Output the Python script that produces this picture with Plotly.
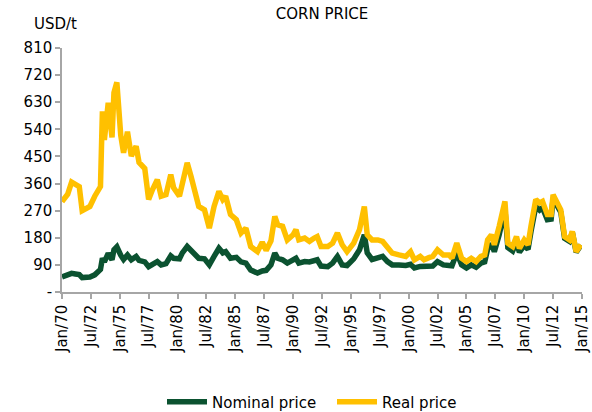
import plotly.graph_objects as go

dates = [
    "1970-01", "1970-07", "1970-11", "1971-03", "1971-07", "1971-10", "1972-02", "1972-06",
    "1972-11", "1973-03", "1973-05", "1973-07", "1973-09", "1974-01", "1974-05", "1974-07",
    "1974-10", "1975-02", "1975-05", "1975-09", "1976-01", "1976-06", "1976-09", "1977-03",
    "1977-07", "1977-11", "1978-04", "1978-08", "1979-01", "1979-06", "1979-09", "1980-03",
    "1980-06", "1980-11", "1981-03", "1981-06", "1981-11", "1982-05", "1982-10", "1983-03",
    "1983-08", "1983-12", "1984-03", "1984-08", "1985-02", "1985-07", "1985-12", "1986-05",
    "1986-12", "1987-05", "1987-09", "1988-02", "1988-06", "1988-09", "1989-02", "1989-07",
    "1990-01", "1990-04", "1990-07", "1991-01", "1991-06", "1991-11", "1992-02", "1992-06",
    "1993-01", "1993-06", "1993-11", "1994-04", "1994-09", "1995-04", "1995-10", "1996-03",
    "1996-06", "1996-11", "1997-05", "1997-10", "1998-03", "1998-08", "1999-03", "1999-10",
    "2000-03", "2000-07", "2001-01", "2001-05", "2001-10", "2002-02", "2002-07", "2003-01",
    "2003-07", "2003-10", "2004-03", "2004-08", "2005-01", "2005-06", "2005-11", "2006-04",
    "2006-08", "2006-11", "2007-03", "2007-06", "2007-11", "2008-05", "2008-08", "2009-01",
    "2009-05", "2009-08", "2010-01", "2010-05", "2010-08", "2011-01", "2011-05", "2011-08",
    "2012-01", "2012-05", "2012-07", "2012-12", "2013-03", "2013-07", "2013-12", "2014-03",
    "2014-07", "2014-12",
]

real_price = [
    300, 325, 365, 360, 350, 270, 275, 284,
    318, 346, 350, 600, 505, 628, 513, 662,
    696, 520, 462, 532, 451, 484, 430, 410,
    307, 340, 373, 318, 323, 390, 346, 318,
    368, 429, 384, 351, 284, 273, 212, 284,
    334, 307, 318, 257, 240, 196, 212, 151,
    134, 165, 138, 170, 251, 223, 218, 173,
    190, 207, 173, 179, 168, 179, 184, 151,
    151, 162, 196, 157, 134, 162, 207, 284,
    190, 173, 173, 168, 145, 129, 123, 118,
    134, 107, 118, 107, 114, 118, 140, 123,
    123, 112, 162, 112, 101, 112, 101, 118,
    123, 173, 190, 157, 218, 301, 162, 151,
    184, 145, 173, 157, 218, 307, 296, 301,
    257, 257, 323, 296, 273, 184, 173, 201,
    134, 157,
]

nominal_price = [
    50, 55, 62, 60, 58, 48, 48, 50,
    57, 68, 75, 112, 100, 128, 107, 140,
    150, 122, 108, 123, 107, 118, 105, 100,
    84, 92, 101, 90, 94, 120, 112, 110,
    130, 151, 138, 128, 112, 110, 90, 118,
    145, 130, 134, 112, 115, 100, 96, 73,
    63, 70, 72, 90, 129, 112, 107, 96,
    105, 112, 96, 101, 100, 107, 107, 86,
    84, 96, 118, 90, 88, 110, 140, 190,
    130, 108, 112, 118, 101, 90, 90, 88,
    92, 80, 85, 84, 84, 86, 101, 90,
    88, 87, 130, 90, 80, 90, 82, 96,
    100, 142, 160, 134, 190, 275, 148, 136,
    166, 132, 155, 142, 200, 284, 272, 280,
    240, 242, 310, 285, 265, 178, 168, 198,
    132, 156,
]

tick_dates = ["1970-01-01", "1972-07-01", "1975-01-01", "1977-07-01", "1980-01-01",
              "1982-07-01", "1985-01-01", "1987-07-01", "1990-01-01", "1992-07-01",
              "1995-01-01", "1997-07-01", "2000-01-01", "2002-07-01", "2005-01-01",
              "2007-07-01", "2010-01-01", "2012-07-01", "2015-01-01"]
tick_labels = ["Jan/70", "Jul/72", "Jan/75", "Jul/77", "Jan/80", "Jul/82", "Jan/85",
               "Jul/87", "Jan/90", "Jul/92", "Jan/95", "Jul/97", "Jan/00", "Jul/02",
               "Jan/05", "Jul/07", "Jan/10", "Jul/12", "Jan/15"]

y_ticks = [0, 90, 180, 270, 360, 450, 540, 630, 720, 810]
y_labels = ["-", "90", "180", "270", "360", "450", "540", "630", "720", "810"]

FONT = "DejaVu Sans"
GREEN = "#0B5230"
YELLOW = "#FFC000"
AXIS = "#A6A6A6"

fig = go.Figure()
fig.add_trace(go.Scatter(x=dates, y=nominal_price, name="Nominal price", mode="lines",
                         line=dict(color=GREEN, width=5.5)))
fig.add_trace(go.Scatter(x=dates, y=real_price, name="Real price", mode="lines",
                         line=dict(color=YELLOW, width=5.5)))

fig.update_layout(
    width=592, height=412,
    margin=dict(l=62, r=10, t=48, b=120, autoexpand=False),
    paper_bgcolor="white", plot_bgcolor="white",
    font=dict(family=FONT, size=15, color="#000000"),
    title=dict(text="CORN PRICE", x=0.5, xref="paper", xanchor="center",
               y=1 - 14 / 412, yref="container", yanchor="middle",
               font=dict(family=FONT, size=15, color="#000000")),
    showlegend=True,
    legend=dict(orientation="h", x=(162 - 62) / 520, xanchor="left",
                y=(292 - 402) / 244, yanchor="middle",
                font=dict(family=FONT, size=15), itemwidth=40, traceorder="normal",
                entrywidth=115, entrywidthmode="pixels",
                bgcolor="rgba(0,0,0,0)"),
    xaxis=dict(type="date", range=["1970-01-01", "2015-01-01"],
               tickvals=tick_dates, ticktext=tick_labels, tickangle=-90,
               showgrid=False, zeroline=False, showline=True, linecolor=AXIS, linewidth=1.5,
               ticks="outside", ticklen=5, tickcolor=AXIS, tickwidth=1.5,
               automargin=False,
               tickfont=dict(family=FONT, size=15, color="#000000")),
    yaxis=dict(range=[0, 810], tickvals=y_ticks, ticktext=y_labels,
               showgrid=False, zeroline=False, showline=True, linecolor=AXIS, linewidth=1.5,
               ticks="outside", ticklen=5, tickcolor=AXIS, tickwidth=1.5,
               automargin=False,
               tickfont=dict(family=FONT, size=15, color="#000000")),
    annotations=[dict(text="USD/t", xref="paper", yref="paper",
                      x=(32 - 62) / 520, xanchor="left",
                      y=(292 - 24) / 244, yanchor="middle",
                      showarrow=False, font=dict(family=FONT, size=15, color="#000000"))],
)

fig.write_html("out.html",
               config={"displayModeBar": False},
               post_script="document.body.style.margin='0';document.body.style.overflow='hidden';")
